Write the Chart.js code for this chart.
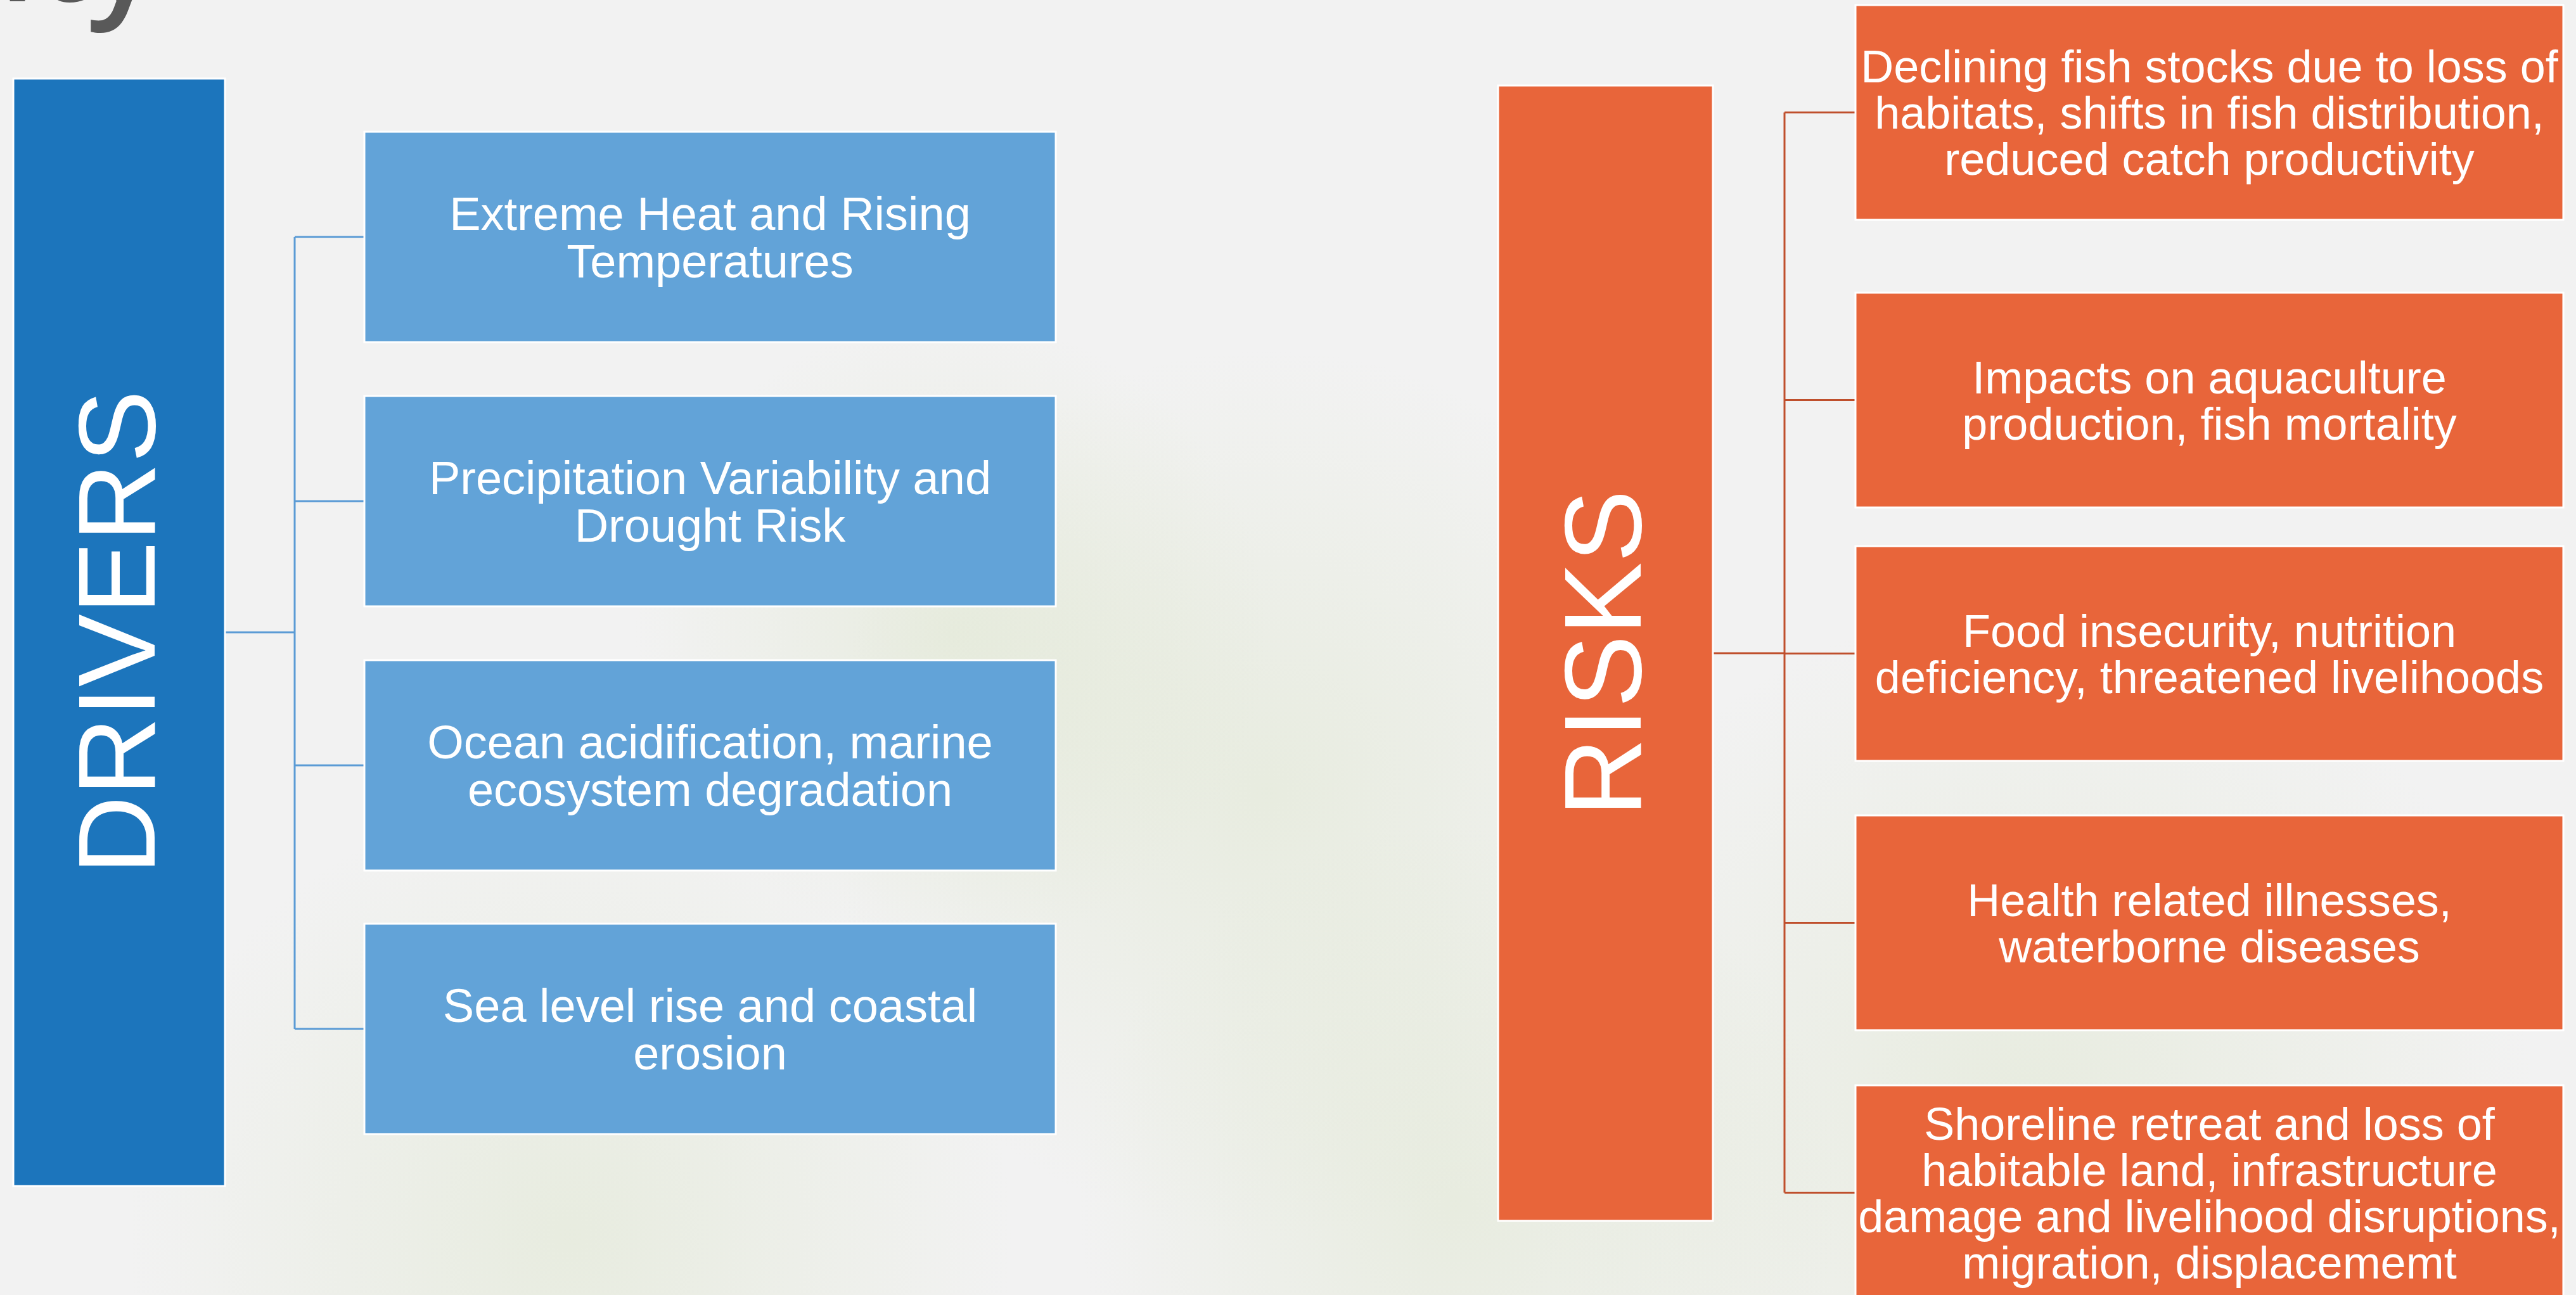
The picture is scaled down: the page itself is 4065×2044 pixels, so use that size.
<!DOCTYPE html>
<html>
<head>
<meta charset="utf-8">
<script src="https://cdn.jsdelivr.net/npm/chart.js@4.4.1/dist/chart.umd.min.js"></script>
<style>
html,body{margin:0;padding:0;background:#f2f2f2;overflow:hidden}
#wrap{width:4065px;height:2044px;position:relative}
canvas{display:block}
</style>
</head>
<body>
<div id="wrap"><canvas id="c" width="4065" height="2044"></canvas></div>
<script>
// ---- content (data) ----
const titleText = 'Vulnerability';
const hubLabels = ['DRIVERS', 'RISKS'];
const driverItems = [
  ['Extreme Heat and Rising', 'Temperatures'],
  ['Precipitation Variability and', 'Drought Risk'],
  ['Ocean acidification, marine', 'ecosystem degradation'],
  ['Sea level rise and coastal', 'erosion']
];
const riskItems = [
  ['Declining fish stocks due to loss of', 'habitats, shifts in fish distribution,', 'reduced catch productivity'],
  ['Impacts on aquaculture', 'production, fish mortality'],
  ['Food insecurity, nutrition', 'deficiency, threatened livelihoods'],
  ['Health related illnesses,', 'waterborne diseases'],
  ['Shoreline retreat and loss of', 'habitable land, infrastructure', 'damage and livelihood disruptions,', 'migration, displacememt']
];

// ---- layout & style (not data) ----
const LAYOUT = {
  W: 4065, H: 2044,
  groups: [
    { label: hubLabels[0], items: driverItems,
      hub: { x0: 21, x1: 355, y0: 124, y1: 1872 },
      box: { x0: 575, x1: 1666, h: 332, tops: [208, 625, 1042, 1458] },
      trunkX: 465, hubLineY: 998,
      hubColor: '#1c75bc', boxColor: '#62a3d8', lineColor: '#5b9bd5',
      font: 74, lh: 75, hubFont: 172 },
    { label: hubLabels[1], items: riskItems,
      hub: { x0: 2364, x1: 2703, y0: 135, y1: 1927 },
      box: { x0: 2928, x1: 4045, h: 339, tops: [8, 462, 862, 1287, 1713] },
      trunkX: 2816, hubLineY: 1031,
      hubColor: '#e8653a', boxColor: '#e8653a', lineColor: '#bf4f2c',
      font: 72, lh: 73, hubFont: 172 }
  ]
};

const FONT = '"Liberation Sans", Arial, sans-serif';

// connector segments built from layout
const datasets = [];
LAYOUT.groups.forEach(g => {
  const centers = g.box.tops.map(t => t + g.box.h / 2);
  const segs = [
    [[g.hub.x1, g.hubLineY], [g.trunkX, g.hubLineY]],
    [[g.trunkX, centers[0]], [g.trunkX, centers[centers.length - 1]]]
  ];
  centers.forEach(c => segs.push([[g.trunkX, c], [g.box.x0, c]]));
  segs.forEach(s => datasets.push({
    data: s.map(p => ({ x: p[0], y: p[1] })),
    showLine: true, borderColor: g.lineColor, borderWidth: 3,
    pointRadius: 0, fill: false, tension: 0
  }));
});

const bgPlugin = {
  id: 'bg',
  beforeDraw(chart) {
    const ctx = chart.ctx;
    ctx.save();
    ctx.fillStyle = '#f2f2f2';
    ctx.fillRect(0, 0, chart.width, chart.height);
    // faint washed-out foliage tint
    const blobs = [[2000, 1250, 700], [3200, 1750, 800], [900, 1950, 700], [2300, 1900, 600], [1500, 1000, 500]];
    blobs.forEach(b => {
      const g = ctx.createRadialGradient(b[0], b[1], 0, b[0], b[1], b[2]);
      g.addColorStop(0, 'rgba(205,220,175,0.28)');
      g.addColorStop(1, 'rgba(205,220,175,0)');
      ctx.fillStyle = g;
      ctx.fillRect(b[0] - b[2], b[1] - b[2], b[2] * 2, b[2] * 2);
    });
    // title fragment at top-left
    ctx.fillStyle = '#595959';
    ctx.font = '600 208px "Open Sans", sans-serif';
    ctx.textAlign = 'right';
    ctx.textBaseline = 'alphabetic';
    ctx.fillText(titleText, 250, 2);
    ctx.restore();
  }
};

const boxPlugin = {
  id: 'boxes',
  afterDatasetsDraw(chart) {
    const ctx = chart.ctx, xs = chart.scales.x, ys = chart.scales.y;
    const X = v => xs.getPixelForValue(v), Y = v => ys.getPixelForValue(v);
    function rect(x0, y0, x1, y1, color) {
      const px0 = X(x0), px1 = X(x1), py0 = Y(y0), py1 = Y(y1);
      ctx.fillStyle = color;
      ctx.fillRect(px0, py0, px1 - px0, py1 - py0);
      ctx.strokeStyle = '#ffffff';
      ctx.lineWidth = 3;
      ctx.strokeRect(px0, py0, px1 - px0, py1 - py0);
    }
    ctx.save();
    LAYOUT.groups.forEach(g => {
      // hub
      rect(g.hub.x0, g.hub.y0, g.hub.x1, g.hub.y1, g.hubColor);
      ctx.save();
      const cx = X((g.hub.x0 + g.hub.x1) / 2) - 6, cy = Y((g.hub.y0 + g.hub.y1) / 2);
      ctx.translate(cx, cy);
      ctx.rotate(-Math.PI / 2);
      ctx.fillStyle = '#ffffff';
      ctx.font = g.hubFont + 'px ' + FONT;
      ctx.textAlign = 'center';
      ctx.textBaseline = 'alphabetic';
      ctx.fillText(g.label, 0, 0.358 * g.hubFont);
      ctx.restore();
      // items
      g.items.forEach((lines, i) => {
        const t = g.box.tops[i];
        rect(g.box.x0, t, g.box.x1, t + g.box.h, g.boxColor);
        const cxp = X((g.box.x0 + g.box.x1) / 2);
        const cyv = t + g.box.h / 2;
        ctx.fillStyle = '#ffffff';
        ctx.font = g.font + 'px ' + FONT;
        ctx.textAlign = 'center';
        ctx.textBaseline = 'alphabetic';
        const n = lines.length;
        lines.forEach((ln, k) => {
          const yv = cyv + (k - (n - 1) / 2) * g.lh + 0.358 * g.font;
          ctx.fillText(ln, cxp, Y(yv));
        });
      });
    });
    ctx.restore();
  }
};

new Chart(document.getElementById('c'), {
  type: 'scatter',
  data: { datasets },
  options: {
    responsive: false,
    animation: false,
    devicePixelRatio: 1,
    layout: { padding: 0 },
    scales: {
      x: { type: 'linear', min: 0, max: LAYOUT.W, display: false },
      y: { type: 'linear', min: 0, max: LAYOUT.H, reverse: true, display: false }
    },
    plugins: { legend: { display: false }, tooltip: { enabled: false } },
    events: []
  },
  plugins: [bgPlugin, boxPlugin]
});
</script>
</body>
</html>
